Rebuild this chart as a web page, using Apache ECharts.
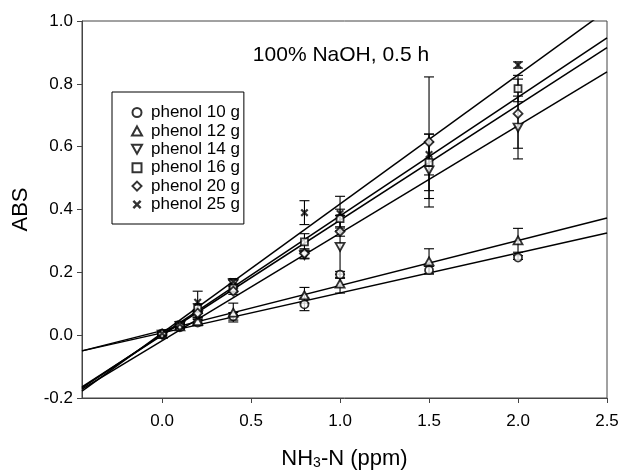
<!DOCTYPE html>
<html>
<head>
<meta charset="utf-8">
<script src="https://cdn.jsdelivr.net/npm/echarts@6/dist/echarts.min.js"></script>
<style>html,body{margin:0;padding:0;background:#fff}#c{width:622px;height:470px}</style>
</head>
<body>
<div id="c"></div>
<script>
// ---- data ----
var xValues = [0, 0.1, 0.2, 0.4, 0.8, 1.0, 1.5, 2.0];
var seriesNames = ['phenol 10 g', 'phenol 12 g', 'phenol 14 g', 'phenol 16 g', 'phenol 20 g', 'phenol 25 g'];
var p10 = [0.005, 0.025, 0.040, 0.060, 0.098, 0.193, 0.207, 0.247];
var e10 = [0.005, 0.006, 0.010, 0.012, 0.020, 0.010, 0.012, 0.006];
var p12 = [0.003, 0.028, 0.045, 0.072, 0.127, 0.164, 0.235, 0.302];
var e12 = [0.004, 0.006, 0.010, 0.030, 0.025, 0.030, 0.040, 0.038];
var p14 = [0.002, 0.030, 0.065, 0.165, 0.255, 0.281, 0.525, 0.661];
var e14 = [0.004, 0.006, 0.010, 0.010, 0.012, 0.100, 0.090, 0.100];
var p16 = [0.003, 0.032, 0.085, 0.150, 0.297, 0.371, 0.550, 0.785];
var e16 = [0.004, 0.006, 0.015, 0.012, 0.026, 0.030, 0.090, 0.042];
var p20 = [0.004, 0.030, 0.070, 0.140, 0.260, 0.330, 0.615, 0.705];
var e20 = [0.004, 0.006, 0.012, 0.010, 0.015, 0.015, 0.207, 0.110];
var p25 = [0.005, 0.035, 0.105, 0.170, 0.390, 0.387, 0.575, 0.860];
var e25 = [0.004, 0.006, 0.035, 0.010, 0.038, 0.055, 0.065, 0.010];
// fitted lines: y at the left and right ends of the x range
var fitX = [-0.45, 2.5];
var fit10 = [-0.050, 0.325];
var fit12 = [-0.050, 0.373];
var fit14 = [-0.172, 0.838];
var fit16 = [-0.168, 0.946];
var fit20 = [-0.165, 0.915];
var fit25 = [-0.178, 1.034];
var xTicks = [0, 0.5, 1.0, 1.5, 2.0, 2.5];

var points = [p10, p12, p14, p16, p20, p25];
var errors = [e10, e12, e14, e16, e20, e25];
var fits = [fit10, fit12, fit14, fit16, fit20, fit25];
var symbols = [
  'circle',
  'path://M5,0 L10,9 L0,9 Z',
  'path://M0,0 L10,0 L5,9 Z',
  'path://M0,0 L10,0 L10,10 L0,10 Z',
  'path://M5,0 L10,5 L5,10 L0,5 Z',
  'path://M0,1.9 L1.9,0 L5,3.1 L8.1,0 L10,1.9 L6.9,5 L10,8.1 L8.1,10 L5,6.9 L1.9,10 L0,8.1 L3.1,5 Z'
];
var symbolSizes = [8, [9, 8], [9, 8], 7, 9, 8];

var FONT = 'Liberation Sans, Arial, sans-serif';
var series = [];
fits.forEach(function (f) {
  series.push({
    type: 'line', data: [[fitX[0], f[0]], [fitX[1], f[1]]],
    showSymbol: false, symbol: 'none', clip: true, silent: true,
    lineStyle: {color: '#000', width: 1.5}, z: 2
  });
});
errors.forEach(function (e, i) {
  series.push({
    type: 'custom', silent: true, z: 3, clip: true,
    data: xValues.map(function (x, j) { return [x, points[i][j], e[j]]; }),
    renderItem: function (params, api) {
      var x = api.value(0), y = api.value(1), err = api.value(2);
      var t = api.coord([x, y + err]), b = api.coord([x, y - err]);
      var h = 5, st = {stroke: '#000', lineWidth: 1.1};
      return {type: 'group', children: [
        {type: 'line', shape: {x1: t[0], y1: t[1], x2: b[0], y2: b[1]}, style: st},
        {type: 'line', shape: {x1: t[0] - h, y1: t[1], x2: t[0] + h, y2: t[1]}, style: st},
        {type: 'line', shape: {x1: b[0] - h, y1: b[1], x2: b[0] + h, y2: b[1]}, style: st}
      ]};
    }
  });
});
points.forEach(function (p, i) {
  var isX = i === 5;
  series.push({
    type: 'scatter', name: seriesNames[i], symbol: symbols[i], symbolSize: symbolSizes[i],
    data: xValues.map(function (x, j) { return [x, p[j]]; }), z: 4,
    itemStyle: isX ? {color: '#000', borderWidth: 0} : {color: '#fff', borderColor: '#000', borderWidth: 1.8}
  });
});

var chart = echarts.init(document.getElementById('c'), null, {renderer: 'canvas'});
chart.setOption({
  animation: false,
  backgroundColor: '#fff',
  textStyle: {fontFamily: FONT, color: '#000'},
  title: {
    text: '100% NaOH, 0.5 h', left: 341, top: 45, textAlign: 'center', padding: 0,
    textStyle: {fontFamily: FONT, fontSize: 21, fontWeight: 'normal', color: '#000'}
  },
  legend: {
    data: seriesNames, orient: 'vertical', left: 112, top: 92,
    padding: [12, 4, 11, 19], itemWidth: 18, itemHeight: 9, itemGap: 1.4,
    borderColor: '#000', borderWidth: 1, backgroundColor: '#fff',
    textStyle: {fontFamily: FONT, fontSize: 17, color: '#000'}
  },
  grid: {left: 82, right: 15, top: 21, bottom: 72, outerBoundsMode: 'none', containLabel: false,
    show: true, borderColor: '#444', borderWidth: 1, backgroundColor: 'transparent'},
  xAxis: {
    type: 'value', min: -0.45, max: 2.5,
    name: 'NH{sub|3}-N (ppm)', nameLocation: 'middle', nameGap: 50,
    nameTextStyle: {fontFamily: FONT, fontSize: 22, color: '#000',
      rich: {sub: {fontFamily: FONT, fontSize: 14, color: '#000', verticalAlign: 'bottom', padding: [8, 0, 0, 0]}}},
    axisLine: {show: true, onZero: false, lineStyle: {color: '#444', width: 1}},
    axisTick: {show: true, length: 5, customValues: xTicks, lineStyle: {color: '#444'}},
    axisLabel: {customValues: xTicks, margin: 15, fontFamily: FONT, fontSize: 17, color: '#000',
      formatter: function (v) { return v.toFixed(1); }},
    splitLine: {show: false}
  },
  yAxis: {
    type: 'value', min: -0.2, max: 1.0, interval: 0.2,
    name: 'ABS', nameLocation: 'middle', nameGap: 50, nameRotate: 90,
    nameTextStyle: {fontFamily: FONT, fontSize: 22, color: '#000'},
    axisLine: {show: true, onZero: false, lineStyle: {color: '#444', width: 1}},
    axisTick: {show: true, length: 5, lineStyle: {color: '#444'}},
    axisLabel: {margin: 9, fontFamily: FONT, fontSize: 17, color: '#000',
      formatter: function (v) { return v.toFixed(1); }},
    splitLine: {show: false}
  },
  series: series
});
</script>
</body>
</html>
